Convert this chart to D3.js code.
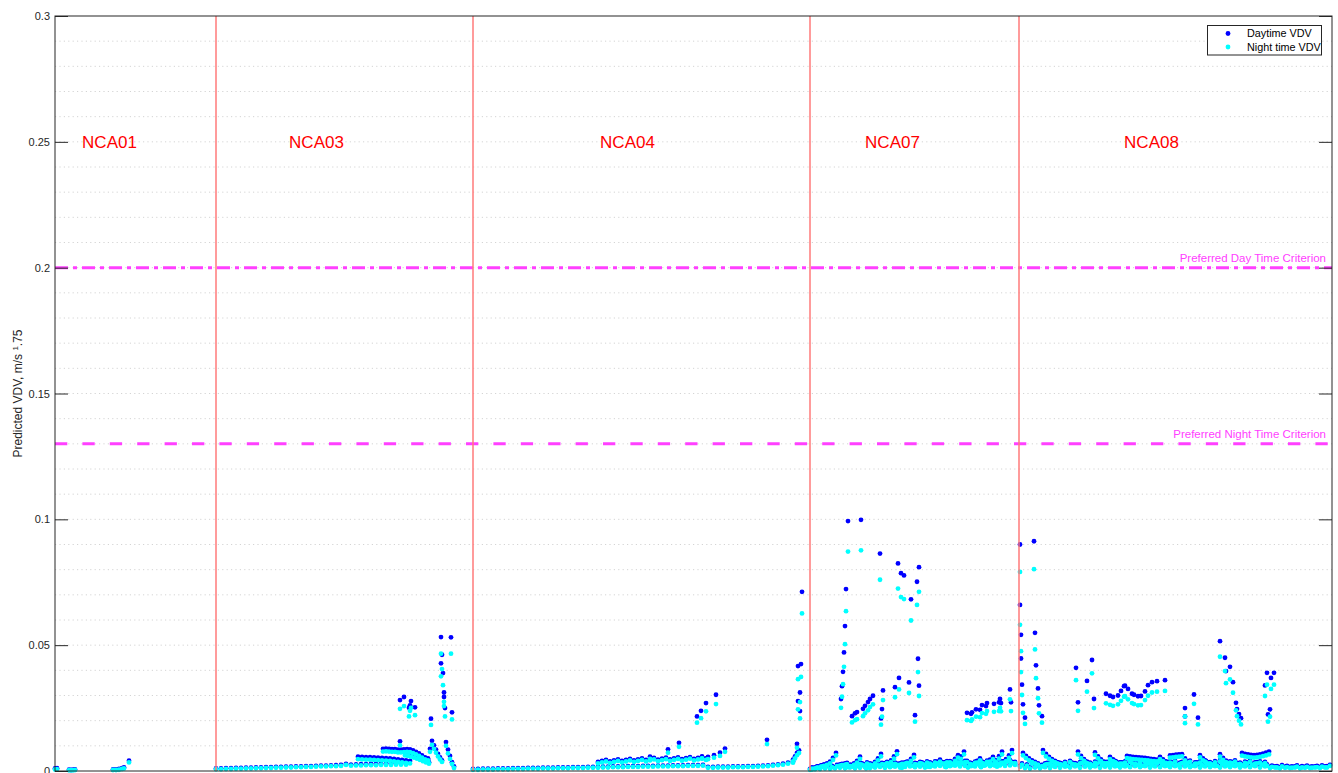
<!DOCTYPE html>
<html><head><meta charset="utf-8">
<script src="https://cdn.jsdelivr.net/npm/d3@7"></script>
<style>
body{margin:0;background:#fff;}
svg{display:block;font-family:"Liberation Sans",Arial,Helvetica,sans-serif;}
</style>
</head><body>
<svg id="chart" width="1338" height="773"></svg>
<script>
// ---------------- DATA ----------------
const xDomain = [0, 1277];            // sample index
const yDomain = [0, 0.3];             // VDV
const yTickValues = [0, 0.05, 0.1, 0.15, 0.2, 0.25, 0.3];
const yTickLabels = ["0", "0.05", "0.1", "0.15", "0.2", "0.25", "0.3"];
const regionBounds = [161, 418, 755, 964];
const regionNames = ["NCA01", "NCA03", "NCA04", "NCA07", "NCA08"];
const regionLabelIdx = [54.5, 261.5, 572.5, 837.5, 1096.5];
const regionLabelVDV = 0.25;
const criteriaValues = [0.2, 0.13];
const criteriaNames = ["Preferred Day Time Criterion", "Preferred Night Time Criterion"];
const seriesNames = ["Daytime VDV", "Night time VDV"];

// NCA01
const nca01Idx   = [0, 2, 14, 16, 18, 20, 58, 61, 64, 67, 69, 74];
const nca01Day   = [.0010,.0011,.0005,.0004,.0005,.0006,.0006,.0006,.0008,.0011,.0014,.0041];
const nca01Night = [.0006,.0007,.0003,.0003,.0003,.0004,.0004,.0004,.0005,.0008,.0010,.0034];

// NCA03 baseline strands
const nca03LowDay = [.0010,.0010,.0011,.0011,.0012,.0012,.0013,.0013,.0014,.0014,
  .0015,.0015,.0016,.0016,.0017,.0017,.0018,.0018,.0019,.0019,
  .0020,.0021,.0021,.0022,.0023,.0024,.0028,.0025,.0026,.0027,
  .0027,.0028,.0028,.0028,.0029,.0029,.0030,.0030,.0030];
const nca03LowNight = [.0007,.0007,.0008,.0008,.0009,.0009,.0010,.0010,.0011,.0011,
  .0012,.0012,.0013,.0013,.0014,.0014,.0015,.0015,.0016,.0016,
  .0017,.0018,.0018,.0019,.0019,.0020,.0024,.0021,.0022,.0022,
  .0023,.0023,.0023,.0024,.0024,.0024,.0025,.0025,.0025];
const nca03UpDay   = [.0057,.0056,.0055,.0055,.0054,.0053,.0052,.0051,.0050,.0048,.0046,.0044,.0042,.0040];
const nca03UpNight = [.0047,.0046,.0045,.0045,.0044,.0043,.0042,.0041,.0040,.0038,.0036,.0034,.0032,.0030];
const nca03TopDay   = [.0088,.0089,.0088,.0087,.0087,.0085,.0085,.0086,.0087,.0086,.0082,.0076,.0070,.0062,.0054,.0046];
const nca03TopNight = [.0077,.0078,.0077,.0076,.0076,.0074,.0074,.0075,.0076,.0075,.0071,.0066,.0060,.0053,.0046,.0039];
const nca03DescDay   = [.0072,.0070,.0067,.0063,.0058,.0052,.0046,.0040,.0035];
const nca03DescNight = [.0062,.0060,.0057,.0053,.0049,.0044,.0039,.0034,.0029];
const nca03Spike1Day   = [.0050,.0088,.0120,.0102,.0085,.0068,.0054,.0042];
const nca03Spike1Night = [.0042,.0076,.0104,.0088,.0073,.0058,.0046,.0036];
const nca03Spike2Day   = [.0115,.0085,.0060,.0035,.0018];
const nca03Spike2Night = [.0100,.0070,.0048,.0028,.0012];
// NCA03 scattered points
const nca03Idx   = [345, 349, 354, 355, 356, 360, 345, 376, 386, 387, 386, 388, 389, 389, 390, 396, 397];
const nca03Day   = [.0282,.0294,.0251,.0261,.0278,.0253,.0118,.0208,.0532,.0462,.0428,.0389,.0312,.0294,.0250,.0531,.0233];
const nca03Night = [.0247,.0258,.0217,.0239,.0251,.0222,.0102,.0183,.0466,.0405,.0376,.0341,.0275,.0258,.0217,.0466,.0205];

// NCA04 baseline strands
const nca04LowDay = [.0008,.0008,.0009,.0009,.0009,.0010,.0010,.0010,.0011,.0011,.0011,.0012,.0012,.0012,
  .0013,.0013,.0013,.0014,.0014,.0014,.0015,.0015,.0015,.0016,.0016,.0016,.0017,
  .0017,.0018,.0018,.0018,.0019,.0019,.0019,.0020,.0020,.0020,.0021,.0021,.0021,.0022,.0022,.0022,.0023,.0023,.0023,.0024,
  .0016,.0016,.0017,.0017,.0017,.0018,.0018,.0018,.0019,.0019,
  .0020,.0021,.0022,.0024,.0026,.0029,.0033,.0038];
const nca04LowNight = [.0005,.0005,.0006,.0006,.0006,.0007,.0007,.0007,.0008,.0008,.0008,.0009,.0009,.0009,
  .0010,.0010,.0010,.0011,.0011,.0011,.0012,.0012,.0012,.0013,.0013,.0013,.0014,
  .0014,.0015,.0015,.0015,.0016,.0016,.0016,.0017,.0017,.0017,.0018,.0018,.0018,.0019,.0019,.0019,.0020,.0020,.0020,.0021,
  .0013,.0013,.0014,.0014,.0014,.0015,.0015,.0015,.0016,.0016,
  .0017,.0018,.0019,.0021,.0023,.0025,.0029,.0033];
const nca04SawDay = [.0036,.0040,.0044,.0038,.0042,.0046,.0040,.0044,.0048,.0042,.0046,.0050,.0044,.0048,
  .0052,.0045,.0049,.0053,.0046,.0050,.0054,.0047,.0051,.0055,.0048,.0052,.0056,.0050];
const nca04SawNight = [.0030,.0034,.0038,.0032,.0036,.0040,.0034,.0038,.0042,.0036,.0040,.0044,.0038,.0042,
  .0046,.0039,.0043,.0047,.0040,.0044,.0048,.0041,.0045,.0049,.0042,.0046,.0050,.0044];
const nca04RiseDay   = [.0045,.0058,.0072,.0082];
const nca04RiseNight = [.0038,.0050,.0063,.0072];
const nca04Idx   = [595, 613, 624, 642, 646, 651, 661, 665, 670, 712, 742, 743, 745, 745, 743, 746, 747, 653, 659, 647];
const nca04Day   = [.0057,.0086,.0112,.0217,.0239,.0270,.0303,.0073,.0089,.0124,.0108,.0278,.0238,.0312,.0417,.0425,.0712,.0056,.0063,.0058];
const nca04Night = [.0048,.0073,.0096,.0192,.0210,.0237,.0266,.0060,.0076,.0107,.0092,.0245,.0209,.0274,.0365,.0374,.0626,.0047,.0053,.0049];

// NCA07 baseline strands
const nca07BaseDay = [.0008,.0010,.0012,.0014,.0013,.0015,.0017,.0016,.0018,.0015,.0017,.0019,.0016,.0018,
  .0020,.0017,.0019,.0021,.0018,.0020,.0022,.0019,.0021,.0023,.0020,.0022,.0024,.0021,
  .0023,.0025,.0022,.0024,.0026,.0022,.0024,.0026,.0023,.0025,.0027,.0024,.0026,.0028];
const nca07BaseNight = [.0005,.0007,.0008,.0010,.0009,.0011,.0013,.0012,.0014,.0011,.0013,.0015,.0012,.0014,
  .0016,.0013,.0015,.0017,.0014,.0016,.0018,.0015,.0017,.0019,.0016,.0018,.0020,.0017,
  .0019,.0021,.0018,.0020,.0022,.0018,.0020,.0022,.0019,.0021,.0023,.0020,.0022,.0024];
const nca07Base2Day = [.0014,.0018,.0022,.0026,.0020,.0024,.0028,.0032,.0022,.0026,.0030,.0034,.0024,.0028,
  .0032,.0036,.0025,.0029,.0033,.0037,.0026,.0030,.0034,.0038,.0027,.0031,.0035,.0039,
  .0028,.0032,.0036,.0040,.0029,.0033,.0037,.0041,.0030,.0034,.0038,.0042,.0036];
const nca07Base2Night = [.0009,.0013,.0017,.0021,.0015,.0019,.0023,.0027,.0017,.0021,.0025,.0029,.0019,.0023,
  .0027,.0031,.0020,.0024,.0028,.0032,.0021,.0025,.0029,.0033,.0022,.0026,.0030,.0034,
  .0023,.0027,.0031,.0035,.0024,.0028,.0032,.0036,.0025,.0029,.0033,.0037,.0031];
const nca07MidDay = [.0026,.0030,.0024,.0028,.0032,.0026,.0030,.0034,.0027,.0031,.0029,.0033,
  .0030,.0034,.0028,.0032,.0036,.0030,.0034,.0038,.0031,.0035,.0039,.0032,
  .0036,.0040,.0033,.0037,.0041,.0034,.0038,.0042,.0035,.0039,.0043,.0036];
const nca07MidNight = [.0021,.0025,.0019,.0023,.0027,.0021,.0025,.0029,.0022,.0026,.0024,.0028,
  .0025,.0029,.0023,.0027,.0031,.0025,.0029,.0033,.0026,.0030,.0034,.0027,
  .0031,.0035,.0028,.0032,.0036,.0029,.0033,.0037,.0030,.0034,.0038,.0031];
const nca07TeethStart = [757, 790, 811, 830, 847, 870, 891, 900, 913, 926, 938, 942];
const nca07TeethDay = [
  [.0010,.0014,.0018,.0022,.0026,.0030,.0037,.0052,.0072],
  [.0016,.0020,.0024,.0030,.0040,.0057],
  [.0015,.0020,.0027,.0036,.0050,.0068],
  [.0020,.0030,.0042,.0058,.0078],
  [.0018,.0026,.0036,.0048,.0064],
  [.0018,.0022,.0026,.0031,.0037,.0045],
  [.0020,.0027,.0036,.0048,.0063],
  [.0030,.0042,.0058,.0077],
  [.0018,.0024,.0031,.0040,.0050],
  [.0020,.0027,.0035,.0045,.0056],
  [.0030,.0043,.0059,.0077],
  [.0022,.0028,.0036,.0047,.0062,.0083]];
const nca07TeethNight = [
  [.0006,.0010,.0013,.0017,.0020,.0024,.0030,.0044,.0062],
  [.0012,.0015,.0019,.0024,.0033,.0048],
  [.0011,.0015,.0021,.0029,.0042,.0058],
  [.0015,.0024,.0035,.0049,.0067],
  [.0013,.0020,.0029,.0040,.0054],
  [.0014,.0017,.0021,.0025,.0030,.0037],
  [.0015,.0021,.0029,.0040,.0053],
  [.0024,.0034,.0048,.0066],
  [.0014,.0019,.0025,.0033,.0042],
  [.0015,.0021,.0028,.0037,.0047],
  [.0024,.0035,.0049,.0066],
  [.0017,.0022,.0029,.0039,.0052,.0071]];
const nca07Idx = [793, 806, 791, 790, 789, 788, 787, 786, 825, 843, 846, 849, 864, 862, 856, 863, 864, 844, 854, 840, 828, 827, 826, 860,
  797, 800, 802, 808, 810, 813, 815, 818,
  912, 916, 917, 921, 925, 927, 931, 932, 939, 944, 945, 946, 955, 956];
const nca07Day = [.0993,.0998,.0723,.0576,.0471,.0394,.0337,.0286,.0864,.0825,.0786,.0777,.0810,.0752,.0682,.0446,.0339,.0370,.0352,.0333,.0320,.0246,.0209,.0222,
  .0218,.0229,.0234,.0247,.0259,.0274,.0286,.0299,
  .0231,.0227,.0233,.0245,.0243,.0262,.0258,.0270,.0267,.0273,.0286,.0270,.0324,.0273];
const nca07Night = [.0872,.0877,.0635,.0504,.0414,.0345,.0295,.0251,.0760,.0725,.0691,.0683,.0712,.0660,.0598,.0393,.0298,.0324,.0310,.0293,.0282,.0216,.0184,.0196,
  .0193,.0202,.0206,.0218,.0229,.0241,.0254,.0265,
  .0202,.0199,.0205,.0216,.0214,.0230,.0227,.0238,.0235,.0238,.0251,.0237,.0285,.0238];

// NCA08 baseline strands
const nca08BaseDay = [.0020,.0016,.0014,.0018,.0015,.0019,.0016,.0020,.0017,.0021,
  .0018,.0022,.0017,.0021,.0018,.0022,.0017,.0021,.0018,.0022,
  .0018,.0022,.0019,.0023,.0019,.0023,.0018,.0022,.0019,.0023,
  .0019,.0023,.0018,.0022,.0019,.0023,.0018,.0022,.0019,.0023,
  .0018,.0022,.0019,.0023,.0018,.0022,.0019,.0023,.0018,.0022,
  .0016,.0018,.0015,.0017,.0016,.0018,.0015,.0017,.0016,.0018,
  .0016,.0018,.0024];
const nca08BaseNight = [.0016,.0012,.0010,.0014,.0011,.0015,.0012,.0016,.0013,.0017,
  .0014,.0018,.0013,.0017,.0014,.0018,.0013,.0017,.0014,.0018,
  .0014,.0018,.0015,.0019,.0015,.0019,.0014,.0018,.0015,.0019,
  .0015,.0019,.0014,.0018,.0015,.0019,.0014,.0018,.0015,.0019,
  .0014,.0018,.0015,.0019,.0014,.0018,.0015,.0019,.0014,.0018,
  .0012,.0014,.0011,.0013,.0012,.0014,.0011,.0013,.0012,.0014,
  .0012,.0014,.0020];
const nca08Base2Day = [.0030,.0026,.0034,.0028,.0024,.0032,.0027,.0035,.0029,.0025,
  .0033,.0028,.0036,.0030,.0026,.0034,.0029,.0036,.0030,.0026,
  .0034,.0028,.0035,.0030,.0026,.0033,.0028,.0036,.0031,.0027,
  .0034,.0029,.0036,.0030,.0026,.0034,.0028,.0035,.0030,.0026,
  .0033,.0028,.0036,.0031,.0027,.0034,.0029,.0035,.0030,.0026,
  .0021,.0019,.0023,.0020,.0018,.0022,.0019,.0021,.0018,.0020,
  .0022,.0019];
const nca08Base2Night = [.0025,.0021,.0029,.0023,.0019,.0027,.0022,.0030,.0024,.0020,
  .0028,.0023,.0031,.0025,.0021,.0029,.0024,.0031,.0025,.0021,
  .0029,.0023,.0030,.0025,.0021,.0028,.0023,.0031,.0026,.0022,
  .0029,.0024,.0031,.0025,.0021,.0029,.0023,.0030,.0025,.0021,
  .0028,.0023,.0031,.0026,.0022,.0029,.0024,.0030,.0025,.0021,
  .0016,.0014,.0018,.0015,.0013,.0017,.0014,.0016,.0013,.0015,
  .0017,.0014];
const nca08MidDay = [.0030,.0034,.0038,.0032,.0036,.0040,.0031,.0035,.0039,.0033,
  .0037,.0041,.0032,.0036,.0040,.0034,.0038,.0042,.0033,.0037,
  .0041,.0035,.0039,.0043,.0034,.0038,.0042,.0033,.0037,.0041,
  .0034,.0038,.0042,.0035,.0039,.0043,.0034,.0038,.0042,.0033,
  .0037,.0041,.0034,.0038,.0036];
const nca08MidNight = [.0025,.0029,.0033,.0027,.0031,.0035,.0026,.0030,.0034,.0028,
  .0032,.0036,.0027,.0031,.0035,.0029,.0033,.0037,.0028,.0032,
  .0036,.0030,.0034,.0038,.0029,.0033,.0037,.0028,.0032,.0036,
  .0029,.0033,.0037,.0030,.0034,.0038,.0029,.0033,.0037,.0028,
  .0032,.0036,.0029,.0033,.0031];
const nca08TeethStart = [968, 988, 1023, 1040, 1055, 1072, 1105, 1115, 1145, 1165, 1187];
const nca08TeethDay = [
  [.0072,.0060,.0050,.0042,.0036,.0030],
  [.0083,.0068,.0056,.0047,.0040,.0034],
  [.0077,.0060,.0047,.0037,.0030,.0025],
  [.0074,.0058,.0046,.0037,.0030,.0025],
  [.0056,.0046,.0038,.0032,.0027],
  [.0060,.0058,.0056,.0055,.0054,.0053,.0052,.0050,.0048,.0047,.0045],
  [.0056,.0046,.0038,.0032],
  [.0062,.0063,.0065,.0066,.0067,.0050,.0038],
  [.0063,.0050,.0040,.0032,.0026],
  [.0067,.0052,.0041,.0033,.0027],
  [.0072,.0068,.0066,.0064,.0063,.0064,.0066,.0069,.0073,.0077]];
const nca08TeethNight = [
  [.0062,.0051,.0042,.0035,.0030,.0025],
  [.0072,.0058,.0048,.0040,.0034,.0028],
  [.0066,.0051,.0040,.0031,.0025,.0021],
  [.0064,.0050,.0039,.0031,.0025,.0021],
  [.0047,.0039,.0032,.0027,.0022],
  [.0051,.0049,.0047,.0046,.0045,.0044,.0043,.0042,.0040,.0039,.0038],
  [.0047,.0039,.0032,.0027],
  [.0053,.0054,.0056,.0057,.0058,.0042,.0032],
  [.0054,.0042,.0034,.0027,.0022],
  [.0057,.0044,.0035,.0028,.0023],
  [.0061,.0058,.0056,.0054,.0053,.0054,.0056,.0059,.0062,.0066]];
const nca08Idx = [965, 979, 965, 966, 966, 967, 968, 970, 980, 981, 983, 984, 987, 1021, 1023, 1032, 1037, 1039,
  1051, 1055, 1058, 1063, 1066, 1069, 1070, 1073, 1077, 1079, 1083, 1086, 1090, 1093, 1097, 1102, 1110,
  1130, 1130, 1139, 1143, 1165, 1170, 1171, 1175, 1178, 1181, 1182, 1184, 1186, 1210, 1212, 1216, 1219, 1215, 1213];
const nca08Day = [.0900,.0913,.0660,.0541,.0447,.0343,.0265,.0212,.0549,.0420,.0328,.0261,.0218,.0410,.0273,.0358,.0441,.0286,
  .0307,.0299,.0294,.0300,.0318,.0337,.0339,.0326,.0307,.0303,.0297,.0298,.0316,.0341,.0353,.0357,.0361,
  .0250,.0217,.0304,.0212,.0516,.0450,.0397,.0414,.0353,.0271,.0246,.0226,.0210,.0340,.0390,.0370,.0390,.0245,.0225];
const nca08Night = [.0791,.0802,.0581,.0476,.0393,.0302,.0231,.0187,.0483,.0369,.0289,.0229,.0192,.0361,.0239,.0315,.0388,.0250,
  .0269,.0263,.0259,.0265,.0279,.0295,.0297,.0285,.0270,.0266,.0261,.0262,.0282,.0299,.0312,.0315,.0318,
  .0217,.0190,.0267,.0185,.0454,.0397,.0349,.0364,.0311,.0241,.0218,.0200,.0185,.0298,.0343,.0326,.0343,.0216,.0196];

// ---------------- BUILD POINTS ----------------
function pairs(idx, day, night) { return idx.map((v, k) => ({i: v, day: day[k], night: night[k]})); }
function strand(start, step, day, night) { return day.map((d, k) => ({i: start + k * step, day: d, night: night[k]})); }
function teeth(starts, step, day, night) { return starts.flatMap((s, t) => strand(s, step, day[t], night[t])); }

const points = [].concat(
  pairs(nca01Idx, nca01Day, nca01Night),
  strand(161, 5, nca03LowDay, nca03LowNight),
  strand(303, 4, nca03UpDay, nca03UpNight),
  strand(328, 3, nca03TopDay, nca03TopNight),
  strand(350, 3, nca03DescDay, nca03DescNight),
  strand(373, 2, nca03Spike1Day, nca03Spike1Night),
  strand(391, 2, nca03Spike2Day, nca03Spike2Night),
  pairs(nca03Idx, nca03Day, nca03Night),
  strand(418, 5, nca04LowDay, nca04LowNight),
  strand(543, 4, nca04SawDay, nca04SawNight),
  strand(738, 2, nca04RiseDay, nca04RiseNight),
  pairs(nca04Idx, nca04Day, nca04Night),
  strand(755, 5, nca07BaseDay, nca07BaseNight),
  strand(757, 5, nca07Base2Day, nca07Base2Night),
  strand(785, 5, nca07MidDay, nca07MidNight),
  teeth(nca07TeethStart, 3, nca07TeethDay, nca07TeethNight),
  pairs(nca07Idx, nca07Day, nca07Night),
  strand(965, 5, nca08BaseDay, nca08BaseNight),
  strand(967, 5, nca08Base2Day, nca08Base2Night),
  strand(990, 5, nca08MidDay, nca08MidNight),
  teeth(nca08TeethStart, 3, nca08TeethDay, nca08TeethNight),
  pairs(nca08Idx, nca08Day, nca08Night)
);

// ---------------- DRAW ----------------
const svg = d3.select("#chart");
const P = {l: 55, r: 1332, t: 16, b: 771};
const x = d3.scaleLinear().domain(xDomain).range([P.l, P.r]);
const y = d3.scaleLinear().domain(yDomain).range([P.b, P.t]);
const axisColor = "#262626";
const dayColor = "#0000ff", nightColor = "#00ffff";
const critColor = "#ff40ff";

// dotted grid
svg.append("g").selectAll("line").data(y.ticks(30).filter(v => v > 0 && v < 0.3))
  .join("line")
  .attr("x1", P.l).attr("x2", P.r)
  .attr("y1", d => y(d)).attr("y2", d => y(d))
  .attr("stroke", "#d4d4d4").attr("stroke-width", 1)
  .attr("stroke-dasharray", "1.2,3.2");

// criterion lines
const critDash = ["13,5,4,5", "12.3,15.1"];
svg.append("g").selectAll("line").data(criteriaValues).join("line")
  .attr("x1", P.l).attr("x2", P.r)
  .attr("y1", d => y(d)).attr("y2", d => y(d))
  .attr("stroke", critColor).attr("stroke-width", 3)
  .attr("stroke-dasharray", (d, k) => critDash[k]);
svg.append("g").selectAll("text").data(criteriaValues).join("text")
  .attr("x", P.r - 6).attr("y", d => y(d) - 6)
  .attr("text-anchor", "end").attr("font-size", 11.5).attr("fill", critColor)
  .text((d, k) => criteriaNames[k]);

// points
const gPts = svg.append("g");
gPts.selectAll("circle.day").data(points).join("circle").attr("class", "day")
  .attr("cx", d => x(d.i)).attr("cy", d => y(d.day)).attr("r", 2.4).attr("fill", dayColor);
gPts.selectAll("circle.night").data(points).join("circle").attr("class", "night")
  .attr("cx", d => x(d.i)).attr("cy", d => y(d.night)).attr("r", 2.4).attr("fill", nightColor);

// region separators
svg.append("g").selectAll("line").data(regionBounds).join("line")
  .attr("x1", d => x(d)).attr("x2", d => x(d))
  .attr("y1", y(yDomain[0])).attr("y2", y(yDomain[1]))
  .attr("stroke", "#ff7a7a").attr("stroke-width", 1.5);

// region labels
svg.append("g").selectAll("text").data(regionNames).join("text")
  .attr("x", (d, k) => x(regionLabelIdx[k])).attr("y", y(regionLabelVDV))
  .attr("dy", "0.36em").attr("text-anchor", "middle")
  .attr("font-size", 17).attr("fill", "#ff0000").text(d => d);

// axes
const yAxis = d3.axisLeft(y).tickValues(yTickValues)
  .tickFormat((d, k) => yTickLabels[k]).tickSize(-13).tickPadding(5);
const gy = svg.append("g").attr("transform", `translate(${P.l},0)`).call(yAxis);
gy.select(".domain").remove();
gy.selectAll("line").attr("stroke", axisColor);
gy.selectAll("text").attr("fill", axisColor).attr("font-size", 11)
  .attr("font-family", "'Liberation Sans',Arial,sans-serif");
const gyr = svg.append("g").attr("transform", `translate(${P.r},0)`)
  .call(d3.axisRight(y).tickValues(yTickValues).tickFormat("").tickSize(-13));
gyr.select(".domain").remove();
gyr.selectAll("line").attr("stroke", axisColor);

svg.append("rect").attr("x", P.l).attr("y", P.t).attr("width", P.r - P.l).attr("height", P.b - P.t)
  .attr("fill", "none").attr("stroke", axisColor).attr("stroke-width", 1);

// y label
const yl = svg.append("text").attr("transform", `translate(22,${(P.t + P.b) / 2}) rotate(-90)`)
  .attr("text-anchor", "middle").attr("font-size", 12).attr("fill", axisColor);
yl.append("tspan").text("Predicted VDV, m/s ");
yl.append("tspan").attr("font-size", 8).attr("dy", "-0.5em").text("1");
yl.append("tspan").attr("dy", "0.33em").text(".75");

// legend
const lg = svg.append("g");
lg.append("rect").attr("x", 1207.5).attr("y", 25.5).attr("width", 114).attr("height", 29.5)
  .attr("fill", "#fff").attr("stroke", axisColor).attr("stroke-width", 1);
seriesNames.forEach((name, k) => {
  lg.append("circle").attr("cx", 1228).attr("cy", 33.5 + k * 13.5).attr("r", 2.4)
    .attr("fill", k === 0 ? dayColor : nightColor);
  lg.append("text").attr("x", 1247).attr("y", 33.5 + k * 13.5).attr("dy", "0.35em")
    .attr("font-size", 10.8).attr("fill", "#000").text(name);
});
</script>
</body></html>
